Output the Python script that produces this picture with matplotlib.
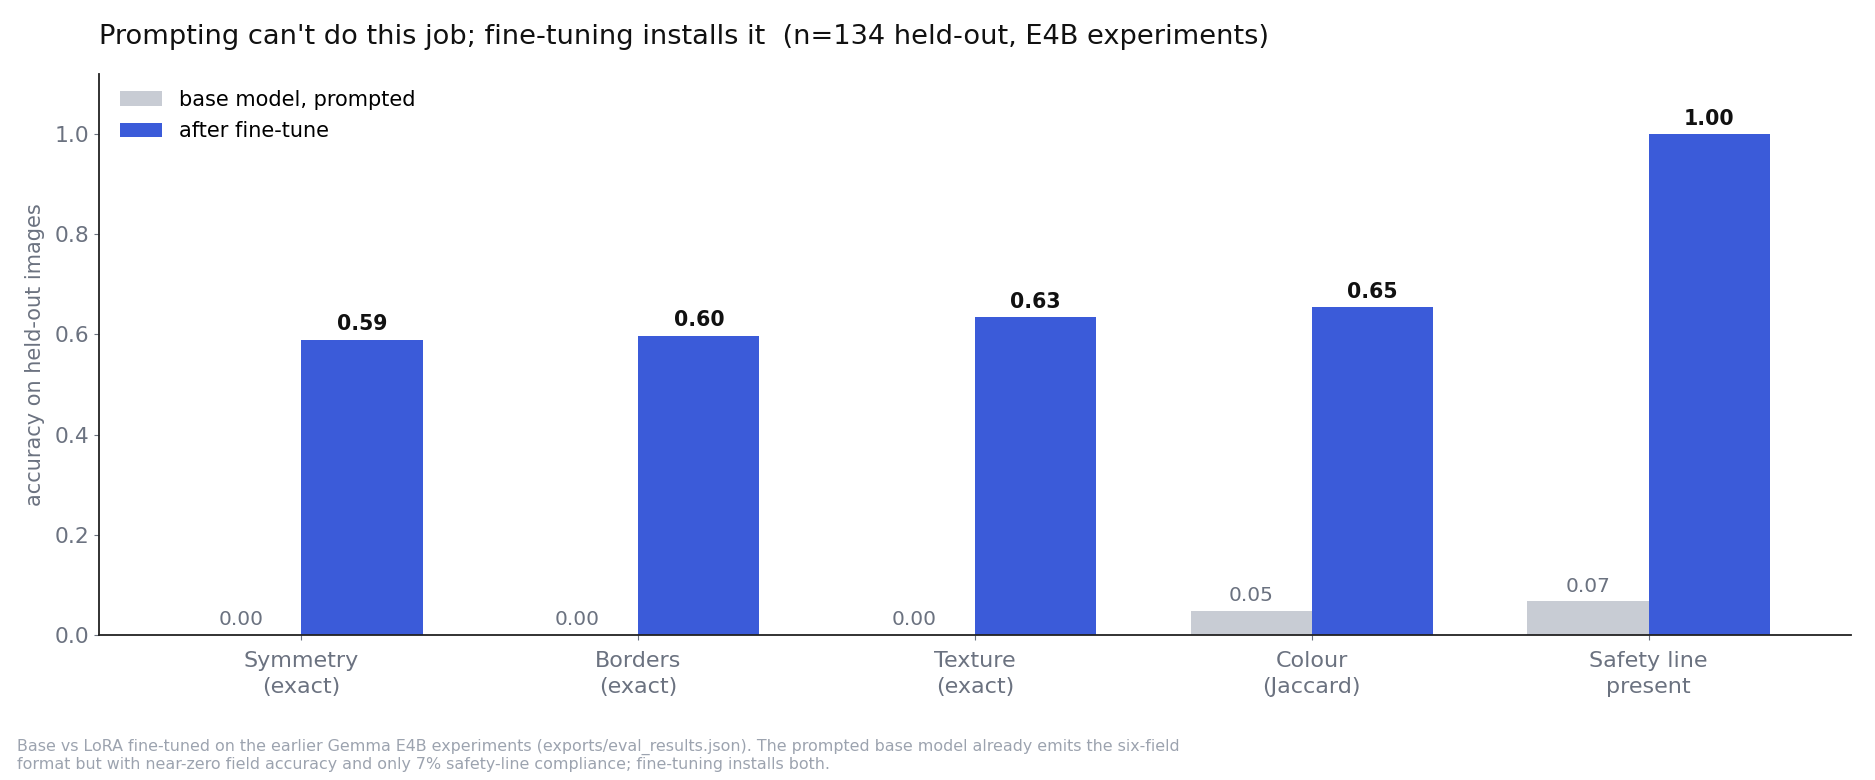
import matplotlib
matplotlib.use("Agg")
import matplotlib.pyplot as plt
import numpy as np

categories = ["Symmetry\n(exact)", "Borders\n(exact)", "Texture\n(exact)", "Colour\n(Jaccard)", "Safety line\npresent"]
base_vals = [0.0, 0.0, 0.0, 0.048, 0.067]
ft_vals = [0.589, 0.597, 0.634, 0.654, 1.0]
series_names = ["base model, prompted", "after fine-tune"]

title = "Prompting can't do this job; fine-tuning installs it  (n=134 held-out, E4B experiments)"
ylabel = "accuracy on held-out images"
footnote = ("Base vs LoRA fine-tuned on the earlier Gemma E4B experiments (exports/eval_results.json). The prompted base model already emits the six-field\n"
            "format but with near-zero field accuracy and only 7% safety-line compliance; fine-tuning installs both.")

GRAY = "#c8ccd4"
BLUE = "#3b5bd9"
TXT = "#6b7280"

fig = plt.figure(figsize=(18.75, 7.8), dpi=100)
ax = fig.add_axes([0.053, 0.186, 0.934, 0.719])

x = np.arange(len(categories))
w = 0.36
ax.bar(x - w / 2, base_vals, w, color=GRAY, label=series_names[0])
ax.bar(x + w / 2, ft_vals, w, color=BLUE, label=series_names[1])

for xi, v in zip(x, base_vals):
    ax.annotate(f"{v:.2f}", (xi - w / 2, v), xytext=(0, 4), textcoords="offset points",
                ha="center", va="bottom", fontsize=14.5, color=TXT)
for xi, v in zip(x, ft_vals):
    ax.annotate(f"{v:.2f}", (xi + w / 2, v), xytext=(0, 4), textcoords="offset points",
                ha="center", va="bottom", fontsize=14.8, color="#111111", fontweight="bold")

ax.set_xlim(-0.6, 4.6)
ax.set_ylim(0, 1.12)
ax.set_yticks([0, 0.2, 0.4, 0.6, 0.8, 1.0])
ax.set_xticks(x)
ax.set_xticklabels(categories, fontsize=16, color=TXT)
for lab in ax.get_xticklabels():
    lab.set_linespacing(1.4)
ax.tick_params(axis="y", labelsize=15.7, labelcolor=TXT, color=TXT)
ax.tick_params(axis="x", color=TXT, pad=8)
for s in ["top", "right"]:
    ax.spines[s].set_visible(False)
for s in ["left", "bottom"]:
    ax.spines[s].set_color("#222222")
    ax.spines[s].set_linewidth(1.3)
ax.set_ylabel(ylabel, fontsize=15, color=TXT, labelpad=7)
ax.set_title(title, fontsize=19.6, color="#111111", loc="left", pad=22)

ax.legend(loc="upper left", bbox_to_anchor=(0.0, 1.009), frameon=False, fontsize=15,
          handlelength=2.0, handleheight=0.7, borderaxespad=0.6, labelspacing=0.55)

fig.text(0.009, 0.053, footnote, fontsize=11.4, color="#9ca3af", ha="left", va="top", linespacing=1.2)

fig.savefig("out.png", dpi=100)
